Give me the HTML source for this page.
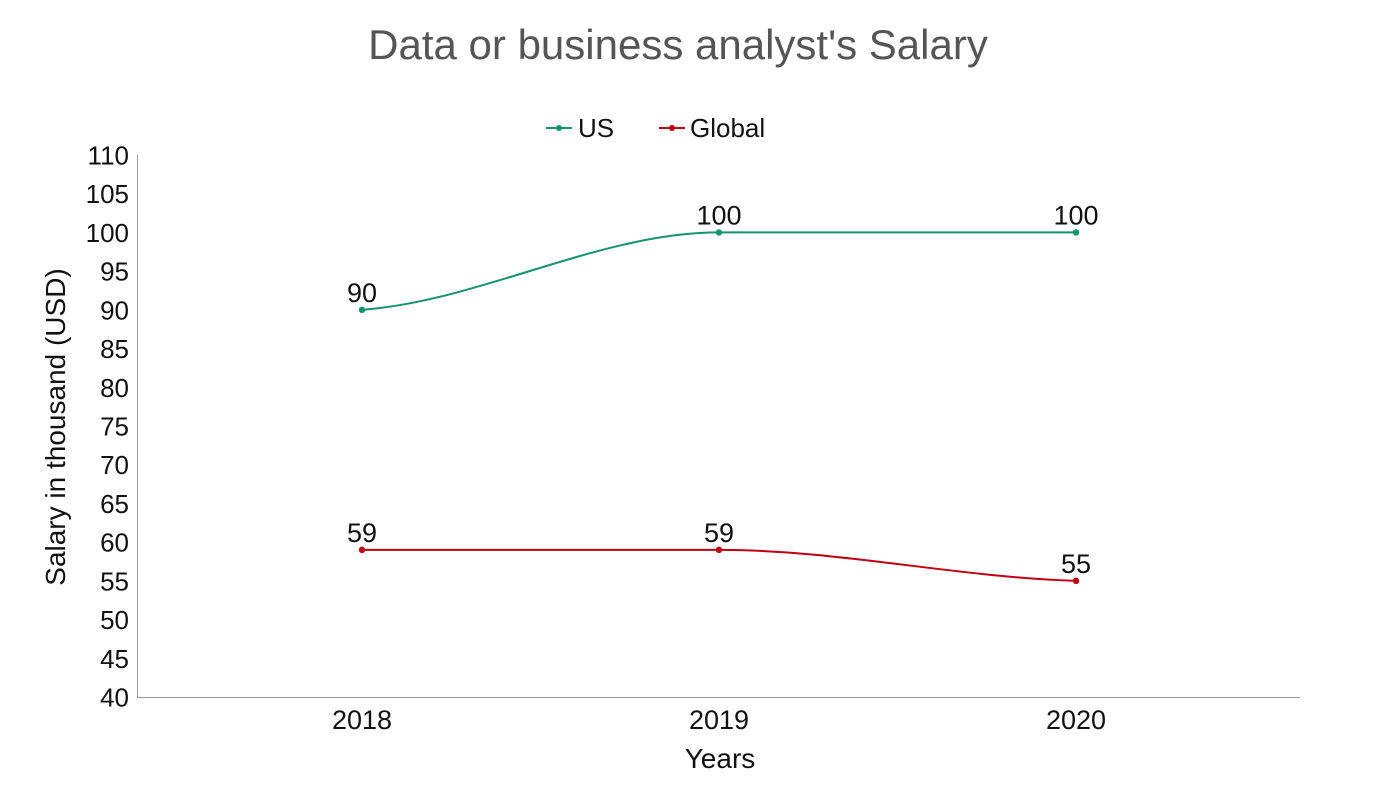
<!DOCTYPE html>
<html><head><meta charset="utf-8"><style>
body{margin:0;background:#fff;}
svg text{font-family:"Liberation Sans",sans-serif;}
</style></head><body>
<svg id="chart" width="1400" height="788" xmlns="http://www.w3.org/2000/svg">
<text x="678" y="59" text-anchor="middle" font-size="42" fill="#555">Data or business analyst's Salary</text>
<g>
<g><line x1="546" y1="128" x2="572" y2="128" stroke="#13946c" stroke-width="2"/><circle cx="559" cy="128" r="3" fill="#13946c"/><text x="578" y="137" font-size="26" fill="#111">US</text></g>
<g><line x1="659" y1="128" x2="685" y2="128" stroke="#c0000f" stroke-width="2"/><circle cx="672" cy="128" r="3" fill="#c0000f"/><text x="690" y="137" font-size="26" fill="#111">Global</text></g>
</g>
<line x1="137.5" y1="155" x2="137.5" y2="697" stroke="#999" stroke-width="1"/>
<line x1="137" y1="697.5" x2="1300" y2="697.5" stroke="#999" stroke-width="1"/>
<g id="yticks"></g><g id="xticks"></g><g id="series"></g>
<text transform="translate(65,427) rotate(-90)" text-anchor="middle" font-size="28" fill="#111">Salary in thousand (USD)</text>
<text x="720" y="768" text-anchor="middle" font-size="28" fill="#111">Years</text>
</svg>
<script>
const categories=["2018","2019","2020"];
const usValues=[90,100,100];
const globalValues=[59,59,55];
const yTicks=[40,45,50,55,60,65,70,75,80,85,90,95,100,105,110];
const NS="http://www.w3.org/2000/svg";
const yMin=40,yMax=110,yTop=155,yBot=697;
function y(v){return yBot-(v-yMin)/(yMax-yMin)*(yBot-yTop);}
function x(i){return 362+i*357;}
function mk(tag,attrs,parent){const e=document.createElementNS(NS,tag);for(const k in attrs)e.setAttribute(k,attrs[k]);parent.appendChild(e);return e;}
const yt=document.getElementById('yticks');
yTicks.forEach(t=>{const e=mk('text',{x:129,y:y(t)+9.5,'text-anchor':'end','font-size':26,fill:'#111'},yt);


e.textContent=t;});
const xt=document.getElementById('xticks');
categories.forEach((c,i)=>{const e=mk('text',{x:x(i),y:729,'text-anchor':'middle','font-size':27,fill:'#111'},xt);


e.textContent=c;});
function smoothPath(pts){
 const n=pts.length;const d=[],m=[];
 for(let i=0;i<n-1;i++){d.push((pts[i+1][1]-pts[i][1])/(pts[i+1][0]-pts[i][0]));}
 for(let i=0;i<n;i++){
  if(i===0)m.push(d[0]*0.35);else if(i===n-1)m.push(d[n-2]*0.35);
  else m.push(d[i-1]*d[i]<=0?0:(d[i-1]+d[i])/2);
 }
 let s=`M${pts[0][0]},${pts[0][1]}`;
 for(let i=0;i<n-1;i++){const h=(pts[i+1][0]-pts[i][0])/3;
  s+=` C${pts[i][0]+h},${pts[i][1]+m[i]*h} ${pts[i+1][0]-h},${pts[i+1][1]-m[i+1]*h} ${pts[i+1][0]},${pts[i+1][1]}`;}
 return s;
}
const sg=document.getElementById('series');
[[usValues,'#13946c','us'],[globalValues,'#c0000f','global']].forEach(([vals,col,nm])=>{
 const pts=vals.map((v,i)=>[x(i),y(v)]);
 const p=mk('path',{d:smoothPath(pts),fill:'none',stroke:col,'stroke-width':2},sg);
 
 
 vals.forEach((v,i)=>{
  const c=mk('circle',{cx:x(i),cy:y(v),r:3.2,fill:col},sg);
  
  
  const t=mk('text',{x:x(i),y:y(v)-8,'text-anchor':'middle','font-size':27,fill:'#111'},sg);
  
  
  t.textContent=v;
 });
});
</script>
</body></html>
